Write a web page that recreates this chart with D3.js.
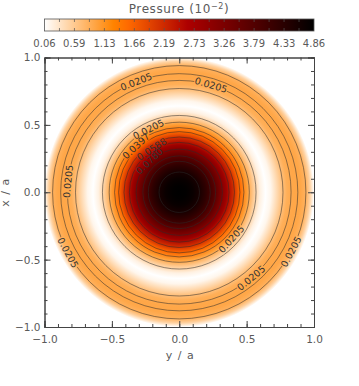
<!DOCTYPE html>
<html>
<head>
<meta charset="utf-8">
<script src="https://cdn.jsdelivr.net/npm/d3@7"></script>
<style>
body { margin: 0; background: #fff; }
svg text { font-family: "DejaVu Sans", sans-serif; fill: #5a5a5a; }
</style>
</head>
<body>
<svg id="chart" width="359" height="386"></svg>
<script>
// radial pressure profile (r in units of a, p in 1e-2)
var profileR = [0, 0.05, 0.10, 0.15, 0.20, 0.25, 0.30, 0.35, 0.40, 0.45, 0.50, 0.55, 0.60, 0.64, 0.68, 0.72, 0.76, 0.80, 0.85, 0.90, 0.94, 0.97, 1.00];
var profileP = [4.86, 4.83, 4.74, 4.55, 4.25, 3.85, 3.35, 2.80, 2.20, 1.55, 1.05, 0.60, 0.20, 0.06, 0.15, 0.40, 0.66, 0.86, 0.94, 0.94, 0.84, 0.52, 0.06];

var barTicks = [0.06, 0.59, 1.13, 1.66, 2.19, 2.73, 3.26, 3.79, 4.33, 4.86];

// contour rings and their labels
var contourR = [0.15, 0.23, 0.27, 0.32, 0.37, 0.41, 0.45, 0.48, 0.52, 0.57, 0.77, 0.83, 0.88, 0.94];
var labelText  = ["0.0205", "0.0205", "0.0205", "0.0205", "0.0205", "0.0205", "0.0205", "0.0205", "0.0397", "0.0588", "0.0780"];
var labelR     = [0.83, 0.83, 0.83, 0.88, 0.94, 0.94, 0.52, 0.52, 0.47, 0.38, 0.32];
var labelAngle = [-73.5, -174.4, 50, -111.3, 151.5, 28, 42, -116, -133, -122.6, -133.6];

// reversed red-temperature colour table
var cmapPos = [0, 0.255, 0.31, 0.53, 1];
var cmapCol = ["#ffffff", "#ff8400", "#ff6a00", "#ae0000", "#000000"];

var pMin = 0.06, pMax = 4.86;

var svg = d3.select("#chart");
var margin = { left: 44.5, right: 45, top: 57.5, bottom: 59 };
var W = 359, H = 386;

var x = d3.scaleLinear().domain([-1, 1]).range([margin.left, W - margin.right]);
var y = d3.scaleLinear().domain([-1, 1]).range([H - margin.bottom, margin.top]);
var unit = x(1) - x(0);

var color = d3.scaleLinear()
    .domain(cmapPos.map(f => pMin + f * (pMax - pMin)))
    .range(cmapCol)
    .clamp(true);

var defs = svg.append("defs");

// field as a radial gradient built from the profile samples
var rg = defs.append("radialGradient")
    .attr("id", "field")
    .attr("gradientUnits", "userSpaceOnUse")
    .attr("cx", x(0)).attr("cy", y(0))
    .attr("r", unit);
rg.selectAll("stop")
    .data(profileR)
    .join("stop")
    .attr("offset", d => d)
    .attr("stop-color", (d, i) => color(profileP[i]));

defs.append("clipPath").attr("id", "plotclip")
    .append("rect")
    .attr("x", x(-1)).attr("y", y(1))
    .attr("width", x(1) - x(-1)).attr("height", y(-1) - y(1));

var plot = svg.append("g").attr("clip-path", "url(#plotclip)");

plot.append("circle")
    .attr("cx", x(0)).attr("cy", y(0))
    .attr("r", unit)
    .attr("fill", "url(#field)");

// label positions
var labels = labelText.map(function(t, i) {
    var a = labelAngle[i] * Math.PI / 180;
    var rot = labelAngle[i] + 90;
    if (rot > 90) rot -= 180;
    if (rot <= -90) rot += 180;
    return {
        text: t,
        px: x(0) + labelR[i] * unit * Math.cos(a),
        py: y(0) + labelR[i] * unit * Math.sin(a),
        rot: rot
    };
});

// mask to break contour lines under the labels
var mask = defs.append("mask").attr("id", "labelgap");
mask.append("rect").attr("x", 0).attr("y", 0).attr("width", W).attr("height", H).attr("fill", "#fff");
mask.selectAll("rect.gap")
    .data(labels)
    .join("rect")
    .attr("class", "gap")
    .attr("x", -17).attr("y", -4.5)
    .attr("width", 34).attr("height", 9)
    .attr("fill", "#000")
    .attr("transform", d => "translate(" + d.px + "," + d.py + ") rotate(" + d.rot + ")");

plot.append("g")
    .attr("mask", "url(#labelgap)")
    .selectAll("circle")
    .data(contourR)
    .join("circle")
    .attr("cx", x(0)).attr("cy", y(0))
    .attr("r", d => d * unit)
    .attr("fill", "none")
    .attr("stroke", "#2a2a2a")
    .attr("stroke-opacity", 0.75)
    .attr("stroke-width", 0.7);

plot.append("g")
    .selectAll("text")
    .data(labels)
    .join("text")
    .attr("transform", d => "translate(" + d.px + "," + d.py + ") rotate(" + d.rot + ")")
    .attr("text-anchor", "middle")
    .attr("dy", "0.36em")
    .style("font-size", "9.5px")
    .style("fill", "#333")
    .text(d => d.text);

// axes, ticks pointing inward on all four sides
var major = [-1, -0.5, 0, 0.5, 1];
var minor = d3.range(-10, 11).map(d => d / 10);
var fmt = d3.format(".1f");

function styleAxis(g) {
    g.select(".domain").attr("stroke", "#444");
    g.selectAll(".tick line").attr("stroke", "#444");
    g.selectAll(".tick text").style("font-size", "10.5px").style("font-family", "DejaVu Sans").attr("fill", "#5a5a5a");
}

svg.append("g")
    .attr("transform", "translate(0," + y(-1) + ")")
    .call(d3.axisBottom(x).tickValues(major).tickSize(-6).tickPadding(9).tickFormat(d => fmt(d).replace("-", "\u2212")))
    .call(styleAxis);
svg.append("g")
    .attr("transform", "translate(0," + y(-1) + ")")
    .call(d3.axisBottom(x).tickValues(minor).tickSize(-3).tickFormat(""))
    .call(styleAxis);
svg.append("g")
    .attr("transform", "translate(0," + y(1) + ")")
    .call(d3.axisTop(x).tickValues(major).tickSize(-6).tickFormat(""))
    .call(styleAxis);
svg.append("g")
    .attr("transform", "translate(0," + y(1) + ")")
    .call(d3.axisTop(x).tickValues(minor).tickSize(-3).tickFormat(""))
    .call(styleAxis);
svg.append("g")
    .attr("transform", "translate(" + x(-1) + ",0)")
    .call(d3.axisLeft(y).tickValues(major).tickSize(-6).tickPadding(4).tickFormat(d => fmt(d).replace("-", "\u2212")))
    .call(styleAxis);
svg.append("g")
    .attr("transform", "translate(" + x(-1) + ",0)")
    .call(d3.axisLeft(y).tickValues(minor).tickSize(-3).tickFormat(""))
    .call(styleAxis);
svg.append("g")
    .attr("transform", "translate(" + x(1) + ",0)")
    .call(d3.axisRight(y).tickValues(major).tickSize(-6).tickFormat(""))
    .call(styleAxis);
svg.append("g")
    .attr("transform", "translate(" + x(1) + ",0)")
    .call(d3.axisRight(y).tickValues(minor).tickSize(-3).tickFormat(""))
    .call(styleAxis);

svg.append("text")
    .attr("x", (x(-1) + x(1)) / 2 + 1)
    .attr("y", 359)
    .attr("text-anchor", "middle")
    .style("font-size", "11px")
    .style("letter-spacing", "1px")
    .text("y / a");

svg.append("text")
    .attr("transform", "translate(9," + y(0) + ") rotate(-90)")
    .attr("text-anchor", "middle")
    .style("font-size", "11px")
    .style("letter-spacing", "1px")
    .text("x / a");

// colour bar
var cb = { x0: x(-1), x1: x(1), top: 19, h: 12 };
var cbx = d3.scaleLinear().domain([pMin, pMax]).range([cb.x0, cb.x1]);

var lg = defs.append("linearGradient").attr("id", "cbar");
lg.selectAll("stop")
    .data(cmapPos)
    .join("stop")
    .attr("offset", d => d)
    .attr("stop-color", (d, i) => cmapCol[i]);

svg.append("rect")
    .attr("x", cb.x0).attr("y", cb.top)
    .attr("width", cb.x1 - cb.x0).attr("height", cb.h)
    .attr("fill", "url(#cbar)")
    .attr("stroke", "#555")
    .attr("stroke-width", 0.8);

var step = (pMax - pMin) / 18;
var cbTicks = d3.range(1, 18).map(i => pMin + i * step);
svg.append("g")
    .selectAll("line.t")
    .data(cbTicks)
    .join("line")
    .attr("x1", d => cbx(d)).attr("x2", d => cbx(d))
    .attr("y1", cb.top).attr("y2", cb.top + 3)
    .attr("stroke", "#555").attr("stroke-width", 0.7);
svg.append("g")
    .selectAll("line.b")
    .data(cbTicks)
    .join("line")
    .attr("x1", d => cbx(d)).attr("x2", d => cbx(d))
    .attr("y1", cb.top + cb.h - 3).attr("y2", cb.top + cb.h)
    .attr("stroke", "#555").attr("stroke-width", 0.7);

svg.append("g")
    .selectAll("text")
    .data(barTicks)
    .join("text")
    .attr("x", d => cbx(d))
    .attr("y", 47)
    .attr("text-anchor", "middle")
    .style("font-size", "10px")
    .text(d => d.toFixed(2));

var title = svg.append("text")
    .attr("x", 179)
    .attr("y", 13)
    .attr("text-anchor", "middle")
    .style("font-size", "12px")
    .style("letter-spacing", "0.6px");
title.append("tspan").text("Pressure  (10");
title.append("tspan").attr("dy", -4).style("font-size", "8px").text("\u22122");
title.append("tspan").attr("dy", 4).text(")");
</script>
</body>
</html>
